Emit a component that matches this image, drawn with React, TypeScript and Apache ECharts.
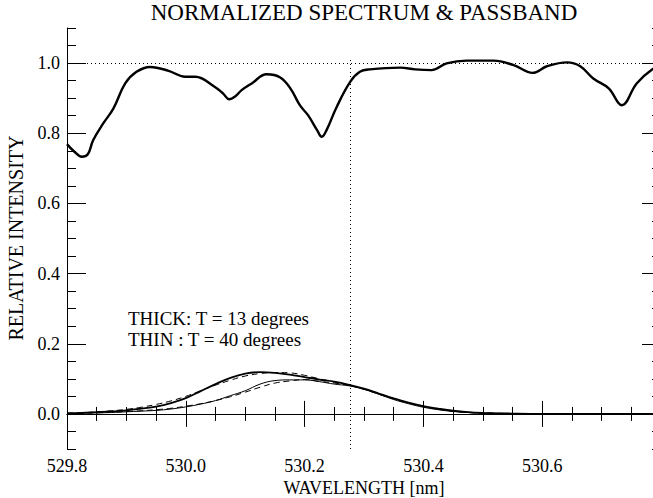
import React, { useEffect, useRef } from "react";
import * as echarts from "echarts";

const spectrumWl = [529.8, 529.812, 529.825, 529.835, 529.844, 529.861, 529.878, 529.898, 529.917, 529.94, 529.971, 529.999, 530.016, 530.049, 530.063, 530.073, 530.083, 530.094, 530.111, 530.136, 530.159, 530.176, 530.192, 530.206, 530.221, 530.229, 530.237, 530.254, 530.277, 530.293, 530.31, 530.361, 530.386, 530.414, 530.439, 530.473, 530.518, 530.552, 530.584, 530.608, 530.642, 530.664, 530.686, 530.712, 530.734, 530.759, 530.785, 530.8];
const spectrumI = [0.769, 0.748, 0.733, 0.74, 0.78, 0.828, 0.87, 0.942, 0.975, 0.989, 0.978, 0.961, 0.961, 0.932, 0.913, 0.897, 0.905, 0.923, 0.942, 0.968, 0.959, 0.928, 0.88, 0.851, 0.809, 0.79, 0.809, 0.875, 0.947, 0.975, 0.982, 0.987, 0.982, 0.98, 0.999, 1.007, 1.007, 0.994, 0.972, 0.991, 1.002, 0.991, 0.956, 0.928, 0.88, 0.942, 0.982, 0.99];

const passWl = [529.8, 529.825, 529.85, 529.875, 529.9, 529.925, 529.95, 529.975, 530.0, 530.025, 530.05, 530.075, 530.1, 530.125, 530.15, 530.175, 530.2, 530.225, 530.25, 530.275, 530.3, 530.325, 530.35, 530.375, 530.4, 530.425, 530.45, 530.475, 530.5, 530.55, 530.6, 530.7, 530.8];
const thickSolid = [0.002, 0.003, 0.005, 0.007, 0.01, 0.015, 0.021, 0.031, 0.045, 0.065, 0.085, 0.103, 0.115, 0.119, 0.117, 0.112, 0.105, 0.098, 0.092, 0.083, 0.072, 0.058, 0.044, 0.032, 0.022, 0.015, 0.009, 0.005, 0.003, 0.001, 0.0, 0.0, 0.0];
const thickDashed = [0.002, 0.003, 0.006, 0.009, 0.013, 0.019, 0.027, 0.037, 0.05, 0.066, 0.082, 0.096, 0.108, 0.115, 0.118, 0.117, 0.11, 0.1, 0.091, 0.082, 0.07, 0.056, 0.043, 0.031, 0.021, 0.014, 0.008, 0.005, 0.003, 0.001, 0.0, 0.0, 0.0];
const thinSolid = [0.001, 0.002, 0.003, 0.004, 0.006, 0.008, 0.01, 0.014, 0.02, 0.028, 0.038, 0.052, 0.066, 0.085, 0.095, 0.097, 0.097, 0.092, 0.085, 0.08, 0.07, 0.056, 0.041, 0.029, 0.019, 0.012, 0.007, 0.004, 0.002, 0.001, 0.0, 0.0, 0.0];
const thinDashed = [0.001, 0.002, 0.003, 0.005, 0.007, 0.009, 0.012, 0.016, 0.022, 0.029, 0.038, 0.049, 0.062, 0.076, 0.088, 0.094, 0.098, 0.093, 0.088, 0.081, 0.071, 0.058, 0.044, 0.031, 0.021, 0.013, 0.008, 0.004, 0.002, 0.001, 0.0, 0.0, 0.0];

const yMajorTicks = [0, 0.2, 0.4, 0.6, 0.8, 1.0];
const markerWl = 530.277;
const legendLines = ["THICK: T = 13 degrees", "THIN : T = 40 degrees"];
const titleText = "NORMALIZED SPECTRUM & PASSBAND";
const xTitle = "WAVELENGTH [nm]";
const yTitle = "RELATIVE INTENSITY";

const FONT = "'Liberation Serif', 'Times New Roman', Times, serif";

export default function App() {
  const ref = useRef<HTMLDivElement>(null);
  useEffect(() => {
    if (!ref.current) return;
    const chart = echarts.init(ref.current, null, { renderer: "svg" });
    const zip = (xs: number[], ys: number[]) => xs.map((x, i) => [x, ys[i]]);
    const black = "#000";
    const baseX = {
      type: "value",
      min: 529.8,
      max: 530.8,
      interval: 0.2,
      axisLine: { show: true, lineStyle: { color: black, width: 1 } },
      splitLine: { show: false },
    };
    const option: any = {
      animation: false,
      backgroundColor: "#fff",
      textStyle: { fontFamily: FONT },
      grid: { left: 67, width: 594, top: 28, height: 421, containLabel: false, outerBoundsMode: "none" },
      xAxis: [
        {
          ...baseX,
          position: "bottom",
          axisTick: { inside: true, length: 13, lineStyle: { color: black } },
          minorTick: { show: true, splitNumber: 4, length: 7, lineStyle: { color: black } },
          axisLabel: {
            color: black,
            fontFamily: FONT,
            fontSize: 18,
            margin: 8,
            formatter: (v: number) => (v > 530.75 ? "" : v.toFixed(1)),
          },
        },
        {
          ...baseX,
          position: "top",
          axisTick: { inside: true, length: 13, lineStyle: { color: black } },
          minorTick: { show: true, splitNumber: 4, length: 7, lineStyle: { color: black } },
          axisLabel: { show: false },
        },
      ],
      yAxis: [
        {
          type: "value",
          position: "left",
          min: -0.1,
          max: 1.1,
          interval: 0.05,
          axisLine: { show: true, lineStyle: { color: black } },
          axisTick: { inside: true, length: 9, lineStyle: { color: black } },
          axisLabel: { show: false },
          splitLine: { show: false },
        },
        {
          type: "value",
          position: "left",
          min: -0.1,
          max: 1.1,
          axisLine: { show: false },
          axisTick: { show: true, inside: true, length: 19, customValues: yMajorTicks, lineStyle: { color: black } },
          axisLabel: {
            show: true,
            customValues: yMajorTicks,
            color: black,
            fontFamily: FONT,
            fontSize: 18,
            margin: 7,
            formatter: (v: number) => v.toFixed(1),
          },
          splitLine: { show: false },
        },
        {
          type: "value",
          position: "right",
          min: -0.1,
          max: 1.1,
          interval: 0.05,
          axisLine: { show: true, lineStyle: { color: black } },
          axisTick: { inside: true, length: 9, lineStyle: { color: black } },
          axisLabel: { show: false },
          splitLine: { show: false },
        },
        {
          type: "value",
          position: "right",
          min: -0.1,
          max: 1.1,
          axisLine: { show: false },
          axisTick: { show: true, inside: true, length: 19, customValues: yMajorTicks, lineStyle: { color: black } },
          axisLabel: { show: false, customValues: yMajorTicks },
          splitLine: { show: false },
        },
      ],
      series: [
        {
          type: "line",
          data: zip(spectrumWl, spectrumI),
          smooth: 0.4,
          symbol: "none",
          lineStyle: { color: black, width: 2.4 },
          markLine: {
            silent: true,
            symbol: "none",
            label: { show: false },
            lineStyle: { color: black, type: [1, 3], width: 1 },
            data: [
              [{ coord: [529.8, 1.0] }, { coord: [530.8, 1.0] }],
              [{ coord: [529.8, 0.0] }, { coord: [530.8, 0.0] }],
              [{ coord: [markerWl, -0.1] }, { coord: [markerWl, 1.01] }],
            ],
          },
        },
        {
          type: "line",
          data: zip(passWl, thickSolid),
          smooth: 0.4,
          symbol: "none",
          lineStyle: { color: black, width: 1.8 },
        },
        {
          type: "line",
          data: zip(passWl, thickDashed),
          smooth: 0.4,
          symbol: "none",
          lineStyle: { color: black, width: 1, type: [6, 4] },
        },
        {
          type: "line",
          data: zip(passWl, thinSolid),
          smooth: 0.4,
          symbol: "none",
          lineStyle: { color: black, width: 1 },
        },
        {
          type: "line",
          data: zip(passWl, thinDashed),
          smooth: 0.4,
          symbol: "none",
          lineStyle: { color: black, width: 1, type: [6, 4] },
        },
      ],
      graphic: [
        {
          type: "text",
          x: 364,
          y: 12,
          style: { text: titleText, fill: black, fontFamily: FONT, fontSize: 23, textAlign: "center", textVerticalAlign: "middle" },
        },
        {
          type: "text",
          x: 364,
          y: 488,
          style: { text: xTitle, fill: black, fontFamily: FONT, fontSize: 18, textAlign: "center", textVerticalAlign: "middle" },
        },
        {
          type: "text",
          x: 16,
          y: 238,
          rotation: Math.PI / 2,
          style: { text: yTitle, fill: black, fontFamily: FONT, fontSize: 20, textAlign: "center", textVerticalAlign: "middle" },
        },
        {
          type: "text",
          x: 128,
          y: 318,
          style: { text: legendLines[0], fill: black, fontFamily: FONT, fontSize: 19, textAlign: "left", textVerticalAlign: "middle" },
        },
        {
          type: "text",
          x: 128,
          y: 339,
          style: { text: legendLines[1], fill: black, fontFamily: FONT, fontSize: 19, textAlign: "left", textVerticalAlign: "middle" },
        },
      ],
    };
    chart.setOption(option);
    return () => chart.dispose();
  }, []);
  return <div ref={ref} style={{ position: "fixed", left: 0, top: 0, width: 653, height: 498 }} />;
}
